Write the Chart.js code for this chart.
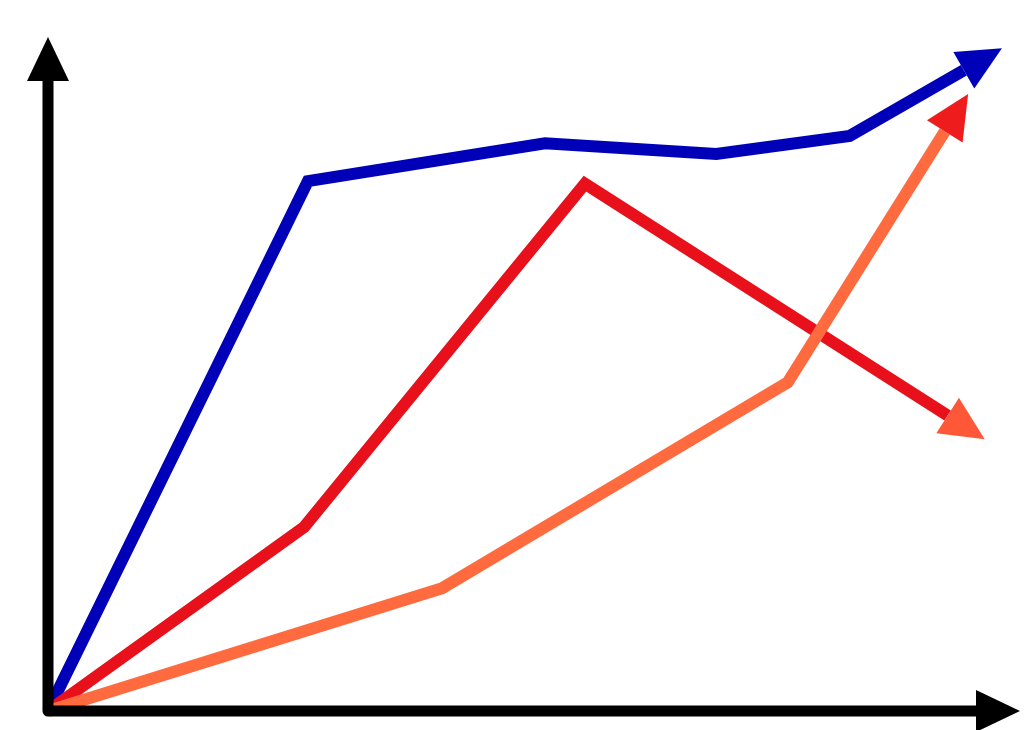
<!DOCTYPE html>
<html>
<head>
<meta charset="utf-8">
<script src="https://cdn.jsdelivr.net/npm/chart.js@4"></script>
<style>
  html, body { margin: 0; padding: 0; background: #fff; }
  #wrap { width: 1024px; height: 730px; }
</style>
</head>
<body>
<div id="wrap"><canvas id="grafica"></canvas></div>
<script>
// Valores (0..100 en cada eje)
const azulX = [0, 27.3, 52.2, 70.2, 84.2, 96.2];
const azulY = [0, 79.8, 85.5, 83.9, 86.6, 96.5];
const rojoX = [0, 26.9, 56.4, 94.5];
const rojoY = [0, 27.7, 79.4, 44.5];
const naranjaX = [0, 41.4, 77.7, 94.2];
const naranjaY = [0, 18.5, 49.5, 87.3];

const puntos = (xs, ys) => xs.map((x, i) => ({ x: x, y: ys[i] }));

// flechas al final de cada serie y ejes
const flechas = {
  id: 'flechas',
  afterDatasetsDraw(chart) {
    const ctx = chart.ctx;
    const area = chart.chartArea;
    ctx.save();

    chart.data.datasets.forEach((ds, i) => {
      const pts = chart.getDatasetMeta(i).data;
      const a = pts[pts.length - 2], b = pts[pts.length - 1];
      const dx = b.x - a.x, dy = b.y - a.y;
      const len = Math.hypot(dx, dy);
      const ux = dx / len, uy = dy / len;
      const largo = 44, medio = 21;
      ctx.fillStyle = ds.colorFlecha;
      ctx.beginPath();
      ctx.moveTo(b.x + ux * largo, b.y + uy * largo);
      ctx.lineTo(b.x - uy * medio, b.y + ux * medio);
      ctx.lineTo(b.x + uy * medio, b.y - ux * medio);
      ctx.closePath();
      ctx.fill();
    });

    // ejes
    const x0 = area.left, y0 = area.bottom;
    ctx.strokeStyle = '#000';
    ctx.fillStyle = '#000';
    ctx.lineWidth = 11;
    ctx.lineJoin = 'round';
    ctx.lineCap = 'butt';
    ctx.beginPath();
    ctx.moveTo(x0, 80);
    ctx.lineTo(x0, y0);
    ctx.lineTo(977, y0);
    ctx.stroke();

    ctx.beginPath();
    ctx.moveTo(x0, 37);
    ctx.lineTo(x0 - 21, 81);
    ctx.lineTo(x0 + 21, 81);
    ctx.closePath();
    ctx.fill();

    ctx.beginPath();
    ctx.moveTo(1020, y0);
    ctx.lineTo(976, y0 - 21);
    ctx.lineTo(976, y0 + 21);
    ctx.closePath();
    ctx.fill();

    ctx.restore();
  }
};

new Chart(document.getElementById('grafica'), {
  type: 'line',
  data: {
    datasets: [
      { label: 'Naranja', data: puntos(naranjaX, naranjaY), borderColor: '#ff6a3f', colorFlecha: '#ee1c1c' },
      { label: 'Rojo', data: puntos(rojoX, rojoY), borderColor: '#e8111b', colorFlecha: '#ff5838' },
      { label: 'Azul', data: puntos(azulX, azulY), borderColor: '#0000b8', colorFlecha: '#0000b8' }
    ].map(ds => Object.assign(ds, {
      borderWidth: 12,
      borderJoinStyle: 'miter',
      borderCapStyle: 'butt',
      pointRadius: 0,
      tension: 0,
      clip: false
    }))
  },
  options: {
    responsive: true,
    maintainAspectRatio: false,
    animation: false,
    layout: { padding: { left: 48, right: 24, top: 47, bottom: 19 } },
    scales: {
      x: { type: 'linear', min: 0, max: 100, display: false },
      y: { type: 'linear', min: 0, max: 100, display: false }
    },
    plugins: {
      legend: { display: false },
      tooltip: { enabled: false }
    }
  },
  plugins: [flechas]
});
</script>
</body>
</html>
